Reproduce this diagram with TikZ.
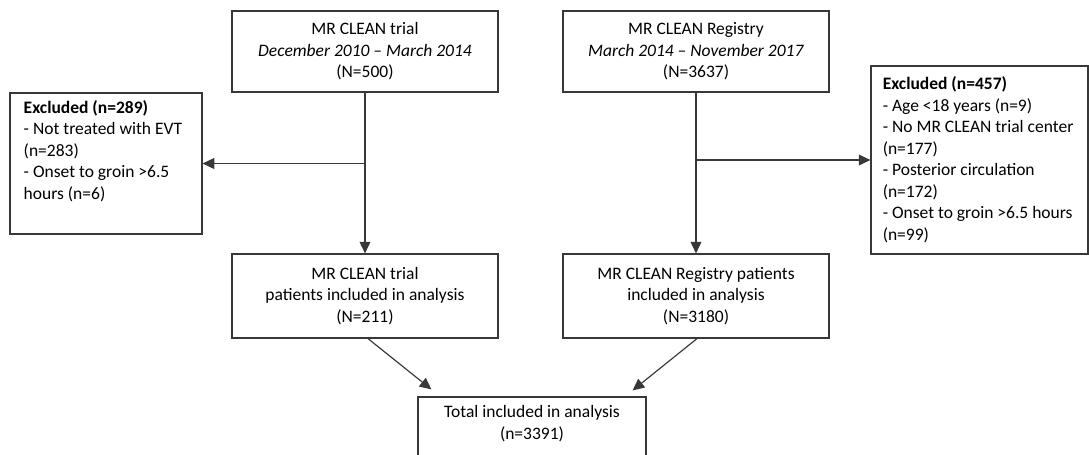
\documentclass[tikz,border=0pt]{standalone}
\usepackage{fontspec}
\setmainfont{Carlito}
\usetikzlibrary{arrows.meta}
\begin{document}
\begin{tikzpicture}[x=0.6pt, y=-0.6pt,
  box/.style={draw=black!78, line width=0.7pt, fill=white, inner sep=0pt},
  txt/.style={font=\fontsize{10.5}{12.9}\selectfont, align=center},
  ltxt/.style={font=\fontsize{10.5}{12.9}\selectfont, align=left, inner sep=0pt},
  ln/.style={draw=black!78, line width=0.7pt},
  arr/.style={ln, -{Triangle[length=7pt,width=6.5pt]}}]
\useasboundingbox (0,0) rectangle (1089,454);
\clip (0,0) rectangle (1089,454);

\node[box, txt, minimum width=266*0.6pt, minimum height=81*0.6pt] (A) at (365,51.5)
  {MR CLEAN trial\\\textit{December 2010 -- March 2014}\\(N=500)};
\node[box, txt, minimum width=266*0.6pt, minimum height=81*0.6pt] (B) at (696,51.5)
  {MR CLEAN Registry\\\textit{March 2014 -- November 2017}\\(N=3637)};

\node[box, minimum width=192*0.6pt, minimum height=141*0.6pt,
  label={[ltxt, anchor=north west, xshift=8.4pt, yshift=-4.5pt]north west:{\textbf{Excluded (n=289)}\\- Not treated with EVT\\(n=283)\\- Onset to groin >6.5\\hours (n=6)}}]
  (exL) at (106,163.5) {};

\node[box, minimum width=217*0.6pt, minimum height=188*0.6pt,
  label={[ltxt, anchor=north west, xshift=7.2pt, yshift=-6.6pt]north west:{\textbf{Excluded (n=457)}\\- Age <18 years (n=9)\\- No MR CLEAN trial center\\(n=177)\\- Posterior circulation\\(n=172)\\- Onset to groin >6.5 hours\\(n=99)}}]
  (exR) at (979.5,160) {};

\node[box, txt, minimum width=266*0.6pt, minimum height=84*0.6pt] (C) at (365,296)
  {MR CLEAN trial\\patients included in analysis\\(N=211)};
\node[box, txt, minimum width=266*0.6pt, minimum height=84*0.6pt] (D) at (696,296)
  {MR CLEAN Registry patients\\included in analysis\\(N=3180)};

\node[box, minimum width=228*0.6pt, minimum height=80*0.6pt,
  label={[ltxt, align=center, anchor=north, yshift=-5.4pt]north:{Total included in analysis\\(n=3391)}}]
  (E) at (532,437) {};

\coordinate (jL) at (A.south |- exL.east);
\coordinate (jR) at (B.south |- exR.west);
\draw[arr] (A.south) -- (C.north);
\draw[arr] (B.south) -- (D.north);
\draw[arr] (jL) -- (exL.east);
\draw[arr] (jR) -- (exR.west);
\draw[arr] ([xshift=1.8pt]C.south) -- ([xshift=8.4pt, yshift=4.2pt]E.north west);
\draw[arr] ([xshift=0.6pt]D.south) -- ([xshift=-8.4pt, yshift=3.6pt]E.north east);
\end{tikzpicture}
\end{document}
